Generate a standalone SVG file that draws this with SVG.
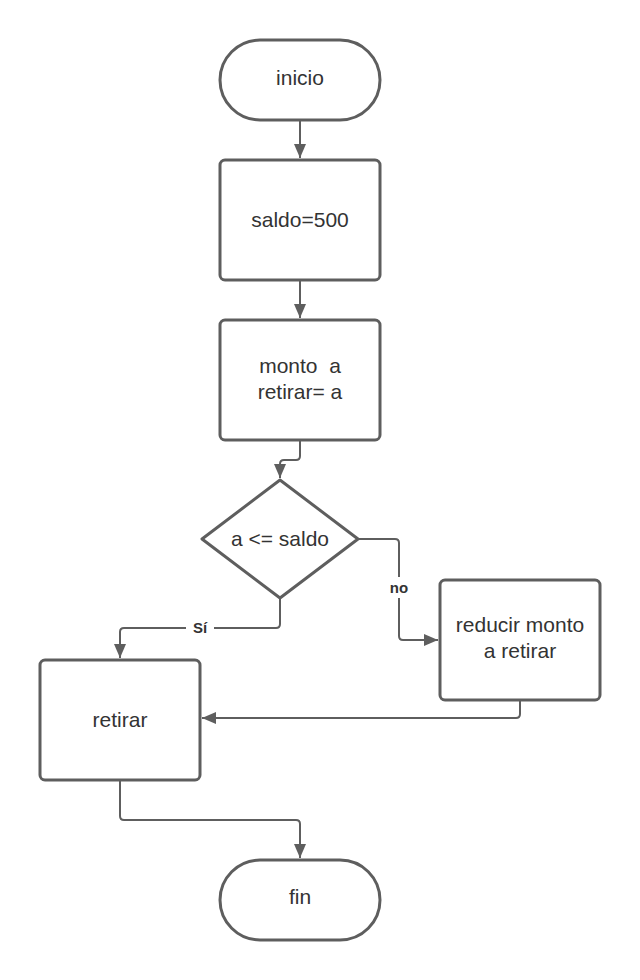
<svg xmlns="http://www.w3.org/2000/svg" width="640" height="980" viewBox="0 0 640 980">
<style>
.shape{fill:#ffffff;stroke:#5e5e5e;stroke-width:3}
.line{fill:none;stroke:#5e5e5e;stroke-width:2}
.t{font-family:"Liberation Sans",Arial,sans-serif;font-size:21px;fill:#333333;text-anchor:middle}
.lbl{font-family:"Liberation Sans",Arial,sans-serif;font-size:15px;font-weight:bold;fill:#333333;text-anchor:middle}
</style>
<defs>
<marker id="arr" markerWidth="16" markerHeight="12" refX="14" refY="6" orient="auto" markerUnits="userSpaceOnUse">
<path d="M0,0 L14,6 L0,12 Z" fill="#5e5e5e"/>
</marker>
</defs>
<rect width="640" height="980" fill="#ffffff"/>
<g id="connectors">
<path class="line" d="M300,120 V158" marker-end="url(#arr)"/>
<path class="line" d="M300,280 V318" marker-end="url(#arr)"/>
<path class="line" d="M300,440 V456 Q300,460 296,460 H284 Q280,460 280,464 V478" marker-end="url(#arr)"/>
<path class="line" d="M358,539 H395 Q399,539 399,543 V636 Q399,640 403,640 H438" marker-end="url(#arr)"/>
<path class="line" d="M280,598 V624 Q280,628 276,628 H124 Q120,628 120,632 V658" marker-end="url(#arr)"/>
<path class="line" d="M520,700 V714 Q520,718 516,718 H202" marker-end="url(#arr)"/>
<path class="line" d="M120,780 V816 Q120,820 124,820 H296 Q300,820 300,824 V858" marker-end="url(#arr)"/>
<rect x="386" y="577" width="26" height="21" fill="#ffffff"/>
<text class="lbl" x="399" y="593">no</text>
<rect x="186" y="617" width="28" height="21" fill="#ffffff"/>
<text class="lbl" x="200" y="633">Sí</text>
</g>
<g id="inicio">
<rect class="shape" x="220" y="40" width="160" height="80" rx="40" ry="40"/>
<text class="t" x="300" y="85">inicio</text>
</g>
<g id="saldo">
<rect class="shape" x="220" y="160" width="160" height="120" rx="5"/>
<text class="t" x="300" y="227">saldo=500</text>
</g>
<g id="monto">
<rect class="shape" x="220" y="320" width="160" height="120" rx="5"/>
<text class="t" x="300" y="373" xml:space="preserve">monto  a</text>
<text class="t" x="300" y="399">retirar= a</text>
</g>
<g id="decision">
<path class="shape" d="M280,480 L358,539 L280,598 L202,539 Z" stroke-linejoin="round"/>
<text class="t" x="280" y="546">a &lt;= saldo</text>
</g>
<g id="reducir">
<rect class="shape" x="440" y="580" width="160" height="120" rx="5"/>
<text class="t" x="520" y="632">reducir monto</text>
<text class="t" x="520" y="658">a retirar</text>
</g>
<g id="retirar">
<rect class="shape" x="40" y="660" width="160" height="120" rx="5"/>
<text class="t" x="120" y="727">retirar</text>
</g>
<g id="fin">
<rect class="shape" x="220" y="860" width="160" height="80" rx="40" ry="40"/>
<text class="t" x="300" y="904">fin</text>
</g>
</svg>
